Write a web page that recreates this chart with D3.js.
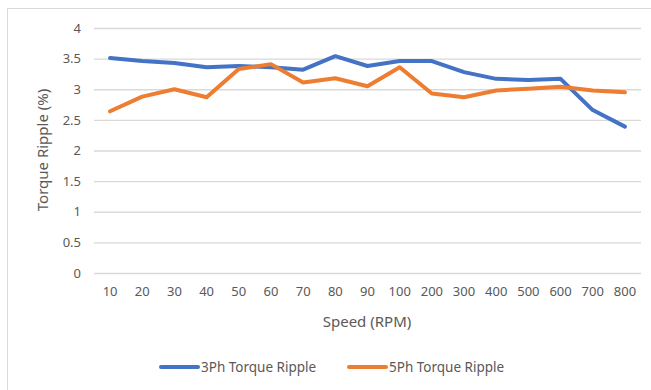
<!DOCTYPE html>
<html>
<head>
<meta charset="utf-8">
<script src="https://cdn.jsdelivr.net/npm/d3@7"></script>
<style>
  html, body { margin: 0; padding: 0; background: #fff; }
  svg text { font-family: "Noto Sans", "Open Sans", sans-serif; fill: #595959; }
</style>
</head>
<body>
<svg id="chart" width="651" height="390"></svg>
<script>
// Speed categories (RPM) on the x axis
const speeds = ["10", "20", "30", "40", "50", "60", "70", "80", "90", "100",
                "200", "300", "400", "500", "600", "700", "800"];
// Torque ripple (%) for each machine
const ripple3Ph = [3.51, 3.46, 3.43, 3.36, 3.38, 3.36, 3.32, 3.54, 3.38, 3.46,
                   3.46, 3.28, 3.17, 3.15, 3.17, 2.66, 2.39];
const ripple5Ph = [2.64, 2.88, 3.00, 2.87, 3.33, 3.41, 3.11, 3.18, 3.05, 3.36,
                   2.93, 2.87, 2.98, 3.01, 3.04, 2.98, 2.95];
const yTicks = [0, 0.5, 1, 1.5, 2, 2.5, 3, 3.5, 4];
const seriesNames = ["3Ph Torque Ripple", "5Ph Torque Ripple"];
const seriesColors = ["#4472C4", "#ED7D31"];

const svg = d3.select("#chart");

// chart frame
svg.append("rect")
  .attr("x", 7.5).attr("y", 8.5)
  .attr("width", 660).attr("height", 400)
  .attr("fill", "none").attr("stroke", "#d9d9d9").attr("stroke-width", 1);

const x = d3.scaleBand().domain(speeds).range([94, 641]).padding(0);
const y = d3.scaleLinear().domain([0, 4]).range([273, 28]);
const cx = d => x(d) + x.bandwidth() / 2;

// horizontal gridlines + y tick labels
const yAxis = d3.axisLeft(y).tickValues(yTicks).tickSize(-(641 - 94)).tickPadding(13)
  .tickFormat(d3.format("~g"));
const gy = svg.append("g").attr("transform", "translate(94,0)").call(yAxis);
gy.select(".domain").remove();
gy.selectAll(".tick line").attr("stroke", "#d9d9d9").attr("stroke-width", 1.3);
gy.selectAll(".tick text").attr("font-size", 13).attr("fill", "#595959")
  .style("font-family", "'Noto Sans', sans-serif");

// x tick labels
const xAxis = d3.axisBottom(x).tickSize(0).tickPadding(14);
const gx = svg.append("g").attr("transform", "translate(0,273)").call(xAxis);
gx.select(".domain").remove();
gx.selectAll(".tick text").attr("font-size", 13).attr("fill", "#595959")
  .style("font-family", "'Noto Sans', sans-serif");

// axis titles
svg.append("text")
  .attr("x", 367).attr("y", 327)
  .attr("text-anchor", "middle").attr("font-size", 15)
  .text("Speed (RPM)");
svg.append("text")
  .attr("transform", "translate(48,150) rotate(-90)")
  .attr("text-anchor", "middle").attr("font-size", 15)
  .text("Torque Ripple (%)");

// series lines
const line = d3.line()
  .x((d, i) => cx(speeds[i]))
  .y(d => y(d));
[ripple3Ph, ripple5Ph].forEach((vals, k) => {
  svg.append("path")
    .datum(vals)
    .attr("d", line)
    .attr("fill", "none")
    .attr("stroke", seriesColors[k])
    .attr("stroke-width", 4)
    .attr("stroke-linejoin", "round")
    .attr("stroke-linecap", "round");
});

// legend
const legendX = [161, 349];
seriesNames.forEach((name, k) => {
  const g = svg.append("g").attr("transform", `translate(${legendX[k]},367)`);
  g.append("line").attr("x1", 0).attr("x2", 37).attr("y1", 0).attr("y2", 0)
    .attr("stroke", seriesColors[k]).attr("stroke-width", 4).attr("stroke-linecap", "round");
  g.append("text").attr("x", 40).attr("y", 5).attr("font-size", 13.5).text(name);
});
</script>
</body>
</html>
